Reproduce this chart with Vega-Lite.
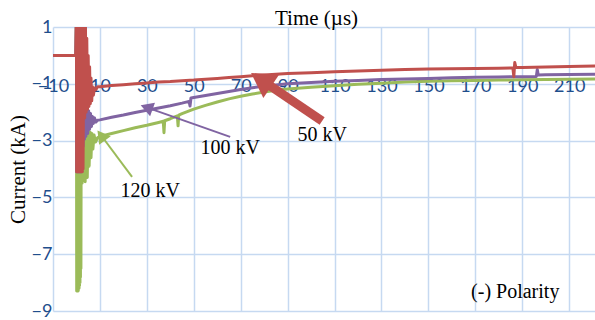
{
  "$schema": "https://vega.github.io/schema/vega-lite/v6.json",
  "width": 542,
  "height": 284,
  "autosize": {"type": "none"},
  "padding": {"left": 53, "top": 27, "right": 0, "bottom": 9},
  "background": "white",
  "config": {"view": {"stroke": null}},
  "datasets": {
    "series": [
      {"s":"120 kV","t":-10,"I":0},{"s":"120 kV","t":-5,"I":0},{"s":"120 kV","t":-0.3,"I":0},
      {"s":"120 kV","t":0,"I":1.5},{"s":"120 kV","t":0.1,"I":-8.3},{"s":"120 kV","t":0.2,"I":1.5},{"s":"120 kV","t":0.3,"I":-8.3},
      {"s":"120 kV","t":0.4,"I":1.5},{"s":"120 kV","t":0.5,"I":-8.3},{"s":"120 kV","t":0.6,"I":1.5},{"s":"120 kV","t":0.7,"I":-8.3},
      {"s":"120 kV","t":0.8,"I":1.5},{"s":"120 kV","t":0.9,"I":-8.25},{"s":"120 kV","t":1.0,"I":1.5},{"s":"120 kV","t":1.1,"I":-8.2},
      {"s":"120 kV","t":1.2,"I":1.5},{"s":"120 kV","t":1.3,"I":-8.1},{"s":"120 kV","t":1.4,"I":1.5},{"s":"120 kV","t":1.5,"I":-8.0},
      {"s":"120 kV","t":1.6,"I":1.5},{"s":"120 kV","t":1.7,"I":-7.8},{"s":"120 kV","t":1.8,"I":1.5},{"s":"120 kV","t":1.9,"I":-7.5},
      {"s":"120 kV","t":2.1,"I":1.0},{"s":"120 kV","t":2.4,"I":-4.5},
      {"s":"120 kV","t":2.7,"I":-1.5},{"s":"120 kV","t":3.0,"I":-4.4},{"s":"120 kV","t":3.3,"I":-2.0},{"s":"120 kV","t":3.7,"I":-4.45},
      {"s":"120 kV","t":4.1,"I":-2.4},{"s":"120 kV","t":4.6,"I":-4.3},{"s":"120 kV","t":5.0,"I":-2.6},{"s":"120 kV","t":5.4,"I":-3.9},
      {"s":"120 kV","t":5.8,"I":-2.7},{"s":"120 kV","t":6.2,"I":-3.6},{"s":"120 kV","t":6.6,"I":-2.75},{"s":"120 kV","t":7.0,"I":-3.3},
      {"s":"120 kV","t":7.5,"I":-2.8},{"s":"120 kV","t":8.1,"I":-3.05},{"s":"120 kV","t":9,"I":-2.9},{"s":"120 kV","t":10,"I":-2.85},
      {"s":"120 kV","t":15,"I":-2.75},{"s":"120 kV","t":20,"I":-2.65},{"s":"120 kV","t":25,"I":-2.55},{"s":"120 kV","t":30,"I":-2.46},
      {"s":"120 kV","t":35,"I":-2.36},{"s":"120 kV","t":37,"I":-2.32},{"s":"120 kV","t":37.3,"I":-2.72},{"s":"120 kV","t":37.6,"I":-2.3},
      {"s":"120 kV","t":40,"I":-2.23},{"s":"120 kV","t":43,"I":-2.13},{"s":"120 kV","t":43.3,"I":-2.48},{"s":"120 kV","t":43.6,"I":-2.1},
      {"s":"120 kV","t":45,"I":-2.05},{"s":"120 kV","t":50,"I":-1.89},{"s":"120 kV","t":55,"I":-1.76},{"s":"120 kV","t":60,"I":-1.64},
      {"s":"120 kV","t":65,"I":-1.53},{"s":"120 kV","t":70,"I":-1.44},{"s":"120 kV","t":75,"I":-1.36},{"s":"120 kV","t":80,"I":-1.29},
      {"s":"120 kV","t":85,"I":-1.23},{"s":"120 kV","t":90,"I":-1.18},{"s":"120 kV","t":100,"I":-1.12},{"s":"120 kV","t":110,"I":-1.07},
      {"s":"120 kV","t":120,"I":-1.02},{"s":"120 kV","t":130,"I":-0.98},{"s":"120 kV","t":140,"I":-0.94},{"s":"120 kV","t":150,"I":-0.91},
      {"s":"120 kV","t":160,"I":-0.89},{"s":"120 kV","t":170,"I":-0.88},{"s":"120 kV","t":180,"I":-0.87},{"s":"120 kV","t":190,"I":-0.86},
      {"s":"120 kV","t":200,"I":-0.85},{"s":"120 kV","t":210,"I":-0.84},{"s":"120 kV","t":221,"I":-0.83},

      {"s":"100 kV","t":-10,"I":0},{"s":"100 kV","t":-5,"I":0},{"s":"100 kV","t":-0.3,"I":0},
      {"s":"100 kV","t":0,"I":1.5},{"s":"100 kV","t":0.1,"I":-4.1},{"s":"100 kV","t":0.2,"I":1.5},{"s":"100 kV","t":0.3,"I":-4.1},
      {"s":"100 kV","t":0.4,"I":1.5},{"s":"100 kV","t":0.5,"I":-4.1},{"s":"100 kV","t":0.6,"I":1.5},{"s":"100 kV","t":0.7,"I":-4.1},
      {"s":"100 kV","t":0.8,"I":1.5},{"s":"100 kV","t":0.9,"I":-4.1},{"s":"100 kV","t":1.0,"I":1.5},{"s":"100 kV","t":1.1,"I":-4.1},
      {"s":"100 kV","t":1.2,"I":1.5},{"s":"100 kV","t":1.3,"I":-4.1},{"s":"100 kV","t":1.4,"I":1.5},{"s":"100 kV","t":1.5,"I":-4.1},
      {"s":"100 kV","t":1.6,"I":1.5},{"s":"100 kV","t":1.7,"I":-4.1},{"s":"100 kV","t":1.8,"I":1.5},{"s":"100 kV","t":1.9,"I":-4.1},
      {"s":"100 kV","t":2.0,"I":1.5},{"s":"100 kV","t":2.2,"I":-4.1},
      {"s":"100 kV","t":2.5,"I":0.5},{"s":"100 kV","t":2.8,"I":-3.2},{"s":"100 kV","t":3.1,"I":-1.8},{"s":"100 kV","t":3.4,"I":-2.95},
      {"s":"100 kV","t":3.7,"I":-1.75},{"s":"100 kV","t":4.0,"I":-2.85},{"s":"100 kV","t":4.4,"I":-1.85},{"s":"100 kV","t":4.8,"I":-2.75},
      {"s":"100 kV","t":5.2,"I":-1.95},{"s":"100 kV","t":5.6,"I":-2.6},{"s":"100 kV","t":6.0,"I":-2.05},{"s":"100 kV","t":6.4,"I":-2.5},
      {"s":"100 kV","t":6.8,"I":-2.15},{"s":"100 kV","t":7.2,"I":-2.4},{"s":"100 kV","t":7.7,"I":-2.2},{"s":"100 kV","t":8.3,"I":-2.35},
      {"s":"100 kV","t":9,"I":-2.28},{"s":"100 kV","t":10,"I":-2.27},{"s":"100 kV","t":15,"I":-2.18},{"s":"100 kV","t":20,"I":-2.1},
      {"s":"100 kV","t":25,"I":-2.01},{"s":"100 kV","t":30,"I":-1.93},{"s":"100 kV","t":35,"I":-1.85},{"s":"100 kV","t":40,"I":-1.77},
      {"s":"100 kV","t":45,"I":-1.68},{"s":"100 kV","t":48,"I":-1.62},{"s":"100 kV","t":48.4,"I":-1.78},{"s":"100 kV","t":48.8,"I":-1.5},
      {"s":"100 kV","t":50,"I":-1.48},{"s":"100 kV","t":55,"I":-1.41},{"s":"100 kV","t":60,"I":-1.34},{"s":"100 kV","t":65,"I":-1.27},
      {"s":"100 kV","t":70,"I":-1.2},{"s":"100 kV","t":75,"I":-1.14},{"s":"100 kV","t":80,"I":-1.08},{"s":"100 kV","t":85,"I":-1.04},
      {"s":"100 kV","t":90,"I":-1.0},{"s":"100 kV","t":100,"I":-0.95},{"s":"100 kV","t":110,"I":-0.91},{"s":"100 kV","t":120,"I":-0.88},
      {"s":"100 kV","t":130,"I":-0.85},{"s":"100 kV","t":140,"I":-0.83},{"s":"100 kV","t":150,"I":-0.81},{"s":"100 kV","t":160,"I":-0.79},
      {"s":"100 kV","t":170,"I":-0.77},{"s":"100 kV","t":180,"I":-0.76},{"s":"100 kV","t":190,"I":-0.75},{"s":"100 kV","t":196,"I":-0.74},
      {"s":"100 kV","t":196.4,"I":-0.5},{"s":"100 kV","t":196.8,"I":-0.69},{"s":"100 kV","t":200,"I":-0.68},{"s":"100 kV","t":210,"I":-0.67},
      {"s":"100 kV","t":221,"I":-0.66},

      {"s":"50 kV","t":-10,"I":0},{"s":"50 kV","t":-5,"I":0},{"s":"50 kV","t":-0.3,"I":0},
      {"s":"50 kV","t":0,"I":1.5},{"s":"50 kV","t":0.1,"I":-4.1},{"s":"50 kV","t":0.2,"I":1.5},{"s":"50 kV","t":0.3,"I":-4.1},
      {"s":"50 kV","t":0.4,"I":1.5},{"s":"50 kV","t":0.5,"I":-4.1},{"s":"50 kV","t":0.6,"I":1.5},{"s":"50 kV","t":0.7,"I":-4.1},
      {"s":"50 kV","t":0.8,"I":1.5},{"s":"50 kV","t":0.9,"I":-4.1},{"s":"50 kV","t":1.0,"I":1.5},{"s":"50 kV","t":1.1,"I":-4.1},
      {"s":"50 kV","t":1.2,"I":1.5},{"s":"50 kV","t":1.3,"I":-4.1},{"s":"50 kV","t":1.4,"I":1.5},{"s":"50 kV","t":1.5,"I":-4.1},
      {"s":"50 kV","t":1.6,"I":1.5},{"s":"50 kV","t":1.7,"I":-4.1},{"s":"50 kV","t":1.8,"I":1.5},{"s":"50 kV","t":1.9,"I":-4.1},
      {"s":"50 kV","t":2.0,"I":1.5},{"s":"50 kV","t":2.1,"I":-4.1},{"s":"50 kV","t":2.2,"I":1.5},{"s":"50 kV","t":2.3,"I":-4.1},
      {"s":"50 kV","t":2.4,"I":1.5},{"s":"50 kV","t":2.5,"I":-4.1},{"s":"50 kV","t":2.6,"I":1.5},{"s":"50 kV","t":2.8,"I":-4.0},
      {"s":"50 kV","t":3.2,"I":1.5},{"s":"50 kV","t":3.5,"I":-2.2},{"s":"50 kV","t":3.8,"I":1.5},{"s":"50 kV","t":4.1,"I":-2.0},
      {"s":"50 kV","t":4.4,"I":0.6},{"s":"50 kV","t":4.7,"I":-1.9},{"s":"50 kV","t":5.0,"I":0.0},{"s":"50 kV","t":5.3,"I":-1.8},
      {"s":"50 kV","t":5.6,"I":-0.4},{"s":"50 kV","t":5.9,"I":-1.7},{"s":"50 kV","t":6.2,"I":-0.8},{"s":"50 kV","t":6.5,"I":-1.6},
      {"s":"50 kV","t":6.8,"I":-1.1},{"s":"50 kV","t":7.2,"I":-1.4},{"s":"50 kV","t":7.7,"I":-1.15},{"s":"50 kV","t":8.3,"I":-1.2},
      {"s":"50 kV","t":9,"I":-1.1},{"s":"50 kV","t":10,"I":-1.1},{"s":"50 kV","t":15,"I":-1.06},{"s":"50 kV","t":20,"I":-1.03},
      {"s":"50 kV","t":25,"I":-1.0},{"s":"50 kV","t":30,"I":-0.97},{"s":"50 kV","t":35,"I":-0.94},{"s":"50 kV","t":40,"I":-0.92},
      {"s":"50 kV","t":45,"I":-0.89},{"s":"50 kV","t":50,"I":-0.87},{"s":"50 kV","t":55,"I":-0.84},{"s":"50 kV","t":60,"I":-0.81},
      {"s":"50 kV","t":65,"I":-0.78},{"s":"50 kV","t":70,"I":-0.75},{"s":"50 kV","t":75,"I":-0.72},{"s":"50 kV","t":80,"I":-0.69},
      {"s":"50 kV","t":85,"I":-0.66},{"s":"50 kV","t":90,"I":-0.64},{"s":"50 kV","t":100,"I":-0.61},{"s":"50 kV","t":110,"I":-0.58},
      {"s":"50 kV","t":120,"I":-0.55},{"s":"50 kV","t":130,"I":-0.52},{"s":"50 kV","t":140,"I":-0.5},{"s":"50 kV","t":150,"I":-0.48},
      {"s":"50 kV","t":160,"I":-0.47},{"s":"50 kV","t":170,"I":-0.46},{"s":"50 kV","t":180,"I":-0.45},{"s":"50 kV","t":186,"I":-0.44},
      {"s":"50 kV","t":186.4,"I":-0.75},{"s":"50 kV","t":186.8,"I":-0.25},{"s":"50 kV","t":187.3,"I":-0.43},{"s":"50 kV","t":190,"I":-0.43},
      {"s":"50 kV","t":200,"I":-0.41},{"s":"50 kV","t":210,"I":-0.39},{"s":"50 kV","t":221,"I":-0.37}
    ],
    "arrows": [
      {"s":"50 kV","t":104.7,"I":-2.31,"t2":78.7,"I2":-0.855},
      {"s":"100 kV","t":65.5,"I":-2.87,"t2":29.9,"I2":-1.83},
      {"s":"120 kV","t":23.7,"I":-4.28,"t2":10.55,"I2":-2.82}
    ],
    "heads": [
      {"s":"50 kV","t":78.7,"I":-0.855},
      {"s":"100 kV","t":29.9,"I":-1.83},
      {"s":"120 kV","t":10.55,"I":-2.82}
    ],
    "labels": [
      {"label":"50 kV","t":104.7,"I":-2.8},
      {"label":"100 kV","t":65.5,"I":-3.26},
      {"label":"120 kV","t":31.4,"I":-4.77},
      {"label":"(-) Polarity","t":187,"I":-8.33}
    ]
  },
  "layer": [
    {
      "mark": {"type": "rule", "color": "#C6D9F1", "strokeWidth": 1.5},
      "encoding": {
        "y": {
          "datum": 0, "type": "quantitative",
          "scale": {"domain": [-9, 1], "nice": false, "zero": false},
          "axis": {
            "values": [1, -1, -3, -5, -7, -9],
            "grid": true, "gridColor": "#C6D9F1", "gridWidth": 1.5,
            "domain": false, "ticks": false, "tickSize": 0,
            "labelFont": "Lato", "labelFontSize": 18, "labelColor": "#1F4E8C",
            "labelPadding": 1, "labelFlush": false, "labelOverlap": false, "labelBound": false,
            "title": "Current (kA)", "titleFont": "Liberation Serif", "titleFontSize": 21, "titleFontWeight": "normal",
            "titleColor": "#000000", "titleX": -35, "titleY": 142, "titleAlign": "center", "titleBaseline": "middle", "titleAngle": -90
          }
        }
      }
    },
    {
      "mark": {"type": "rule", "color": "#8DB4E3", "strokeWidth": 2},
      "encoding": {
        "x": {
          "datum": 0, "type": "quantitative",
          "scale": {"domain": [-10, 221], "nice": false, "zero": false},
          "axis": {
            "orient": "bottom", "offset": -225,
            "values": [-10, 10, 30, 50, 70, 90, 110, 130, 150, 170, 190, 210],
            "grid": true, "gridColor": "#C6D9F1", "gridWidth": 1.5,
            "domain": false, "ticks": false, "tickSize": 0,
            "labelFont": "Lato", "labelFontSize": 18, "labelColor": "#1F4E8C",
            "labelBaseline": "middle", "labelPadding": 0, "labelFlush": false, "labelOverlap": false, "labelBound": false,
            "title": "Time (µs)", "titleFont": "Liberation Serif", "titleFontSize": 21, "titleFontWeight": "normal",
            "titleColor": "#000000", "titleX": 263, "titleY": -68, "titleAlign": "center", "titleBaseline": "middle", "titleAngle": 0
          }
        }
      }
    },
    {
      "data": {"name": "series"},
      "transform": [{"filter": "datum.s === '120 kV'"}],
      "mark": {"type": "line", "clip": true, "strokeWidth": 3, "strokeJoin": "round", "color": "#9BBB59"},
      "encoding": {"x": {"field": "t", "type": "quantitative"}, "y": {"field": "I", "type": "quantitative"}}
    },
    {
      "data": {"name": "series"},
      "transform": [{"filter": "datum.s === '100 kV'"}],
      "mark": {"type": "line", "clip": true, "strokeWidth": 3, "strokeJoin": "round", "color": "#8064A2"},
      "encoding": {"x": {"field": "t", "type": "quantitative"}, "y": {"field": "I", "type": "quantitative"}}
    },
    {
      "data": {"name": "series"},
      "transform": [{"filter": "datum.s === '50 kV'"}],
      "mark": {"type": "line", "clip": true, "strokeWidth": 3, "strokeJoin": "round", "color": "#C0504D"},
      "encoding": {"x": {"field": "t", "type": "quantitative"}, "y": {"field": "I", "type": "quantitative"}}
    },
    {
      "data": {"name": "arrows"},
      "mark": {"type": "rule", "strokeCap": "butt"},
      "encoding": {
        "x": {"field": "t", "type": "quantitative"},
        "y": {"field": "I", "type": "quantitative"},
        "x2": {"field": "t2"},
        "y2": {"field": "I2"},
        "color": {"field": "s", "type": "nominal", "scale": {"domain": ["50 kV", "100 kV", "120 kV"], "range": ["#C0504D", "#8064A2", "#9BBB59"]}, "legend": null},
        "strokeWidth": {"field": "s", "type": "nominal", "scale": {"type": "ordinal", "domain": ["50 kV", "100 kV", "120 kV"], "range": [9, 2, 2]}, "legend": null}
      }
    },
    {
      "data": {"name": "heads"},
      "mark": {"type": "point", "shape": "triangle-up", "filled": true, "opacity": 1},
      "encoding": {
        "x": {"field": "t", "type": "quantitative"},
        "y": {"field": "I", "type": "quantitative"},
        "color": {"field": "s", "type": "nominal", "scale": {"domain": ["50 kV", "100 kV", "120 kV"], "range": ["#C0504D", "#8064A2", "#9BBB59"]}, "legend": null},
        "size": {"field": "s", "type": "nominal", "scale": {"type": "ordinal", "domain": ["50 kV", "100 kV", "120 kV"], "range": [784, 210, 210]}, "legend": null},
        "angle": {"field": "s", "type": "nominal", "scale": {"type": "ordinal", "domain": ["50 kV", "100 kV", "120 kV"], "range": [304, 289.6, 323.3]}, "legend": null}
      }
    },
    {
      "data": {"name": "labels"},
      "mark": {"type": "text", "font": "Liberation Serif", "fontSize": 20, "color": "#000000", "align": "center", "baseline": "middle"},
      "encoding": {
        "x": {"field": "t", "type": "quantitative"},
        "y": {"field": "I", "type": "quantitative"},
        "text": {"field": "label"}
      }
    }
  ]
}
